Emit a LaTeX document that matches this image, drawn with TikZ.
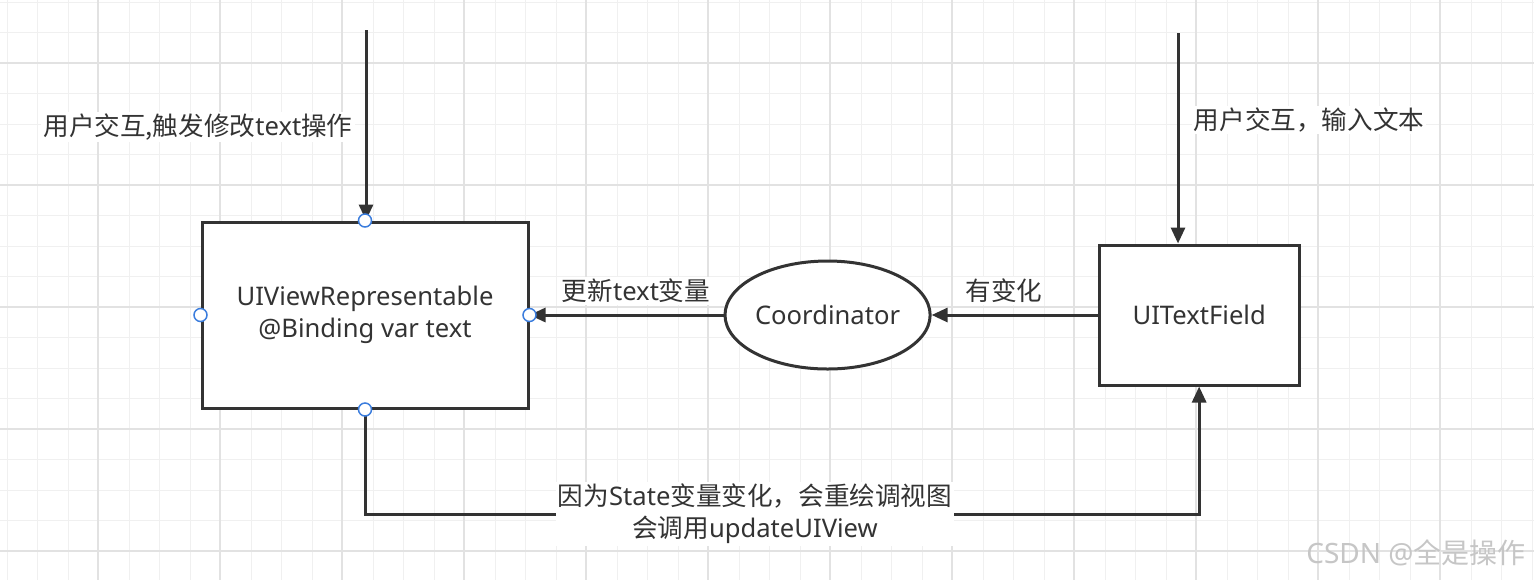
\documentclass[tikz,border=0pt]{standalone}
\usepackage{fontspec}
\setmainfont{Noto Sans}
\newfontfamily\cjk{Noto Sans CJK SC}
\newcommand{\zh}[1]{{\cjk #1}}
\usetikzlibrary{shapes.geometric,arrows.meta,positioning}
\definecolor{ink}{HTML}{333333}
\definecolor{pin}{HTML}{3B7DDD}
\definecolor{gridminor}{HTML}{F0F0F0}
\definecolor{gridmajor}{HTML}{E2E2E2}
\tikzset{
  box/.style = {draw=ink, fill=white, line width=1.5pt, rectangle, text=ink, align=center, font=\fontsize{12.8}{16}\selectfont},
  oval/.style = {draw=ink, fill=white, line width=1.5pt, ellipse, inner sep=0pt, text=ink, align=center, minimum width=101pt, minimum height=54pt, font=\fontsize{12.8}{16}\selectfont},
  lbl/.style = {fill=white, text=ink, inner sep=1pt, align=center, font=\fontsize{12.8}{16}\selectfont},
  pinpt/.style = {circle, draw=pin, fill=white, line width=0.75pt, minimum size=6.5pt, inner sep=0pt},
  arrow/.style = {draw=ink, line width=1.5pt, -{Triangle[length=8pt,width=7pt]}}
}
\begin{document}
\begin{tikzpicture}[x=0.5pt,y=-0.5pt]
            \useasboundingbox[fill=white] (0,0) rectangle (1534,580);
            % grid
            \foreach \i in {0,...,50} \draw[gridminor, line width=0.5pt] ({7+30.5*\i},0) -- ({7+30.5*\i},580);
            \foreach \i in {0,...,18} \draw[gridminor, line width=0.5pt] (0,{2+30.5*\i}) -- (1534,{2+30.5*\i});
            \foreach \i in {0,...,11} \draw[gridmajor, line width=0.75pt] ({98+122*\i},0) -- ({98+122*\i},580);
            \foreach \i in {0,...,4} \draw[gridmajor, line width=0.75pt] (0,{63+122*\i}) -- (1534,{63+122*\i});
            % nodes
            \node[box, minimum width=163pt, minimum height=93pt] (rep) at (365,315) {UIViewRepresentable\\@Binding var text};
            \node[oval, right=97pt of rep] (coord) {Coordinator};
            \node[box, minimum width=100pt, minimum height=70pt, right=83pt of coord] (field) {UITextField};
            \coordinate (tapleft) at (366,30);
            \coordinate (tapright) at (1178,33);
            % connectors
            \draw[arrow] (tapleft) -- (tapleft |- rep.north);
            \draw[arrow] (tapright) -- (tapright |- field.north);
            \draw[arrow] (coord) -- (rep);
            \draw[arrow] (field) -- (coord);
            \draw[arrow] (rep.south) -- ++(0,105) -| (field.south);
            % labels
            \node[lbl] (taplabel) at (198,127) {\zh{用户交互,触发修改}text\zh{操作}};
            \node[lbl] (inputlabel) at (1309,120) {\zh{用户交互，输入文本}};
            \node[lbl] (updlabel) at (636,291) {\zh{更新}text\zh{变量}};
            \node[lbl] (chglabel) at (1004,291) {\zh{有变化}};
            \node[lbl] (redraw) at (755,514) {\zh{因为}State\zh{变量变化，会重绘调视图}\\\zh{会调用}updateUIView};
            \foreach \a in {north,west,east,south} \node[pinpt] (pin-\a) at (rep.\a) {};
            \node[text=gray!45, font=\fontsize{14}{16}\selectfont] (mark) at (1416,553) {CSDN @\zh{全是操作}};
        \end{tikzpicture}
\end{document}
